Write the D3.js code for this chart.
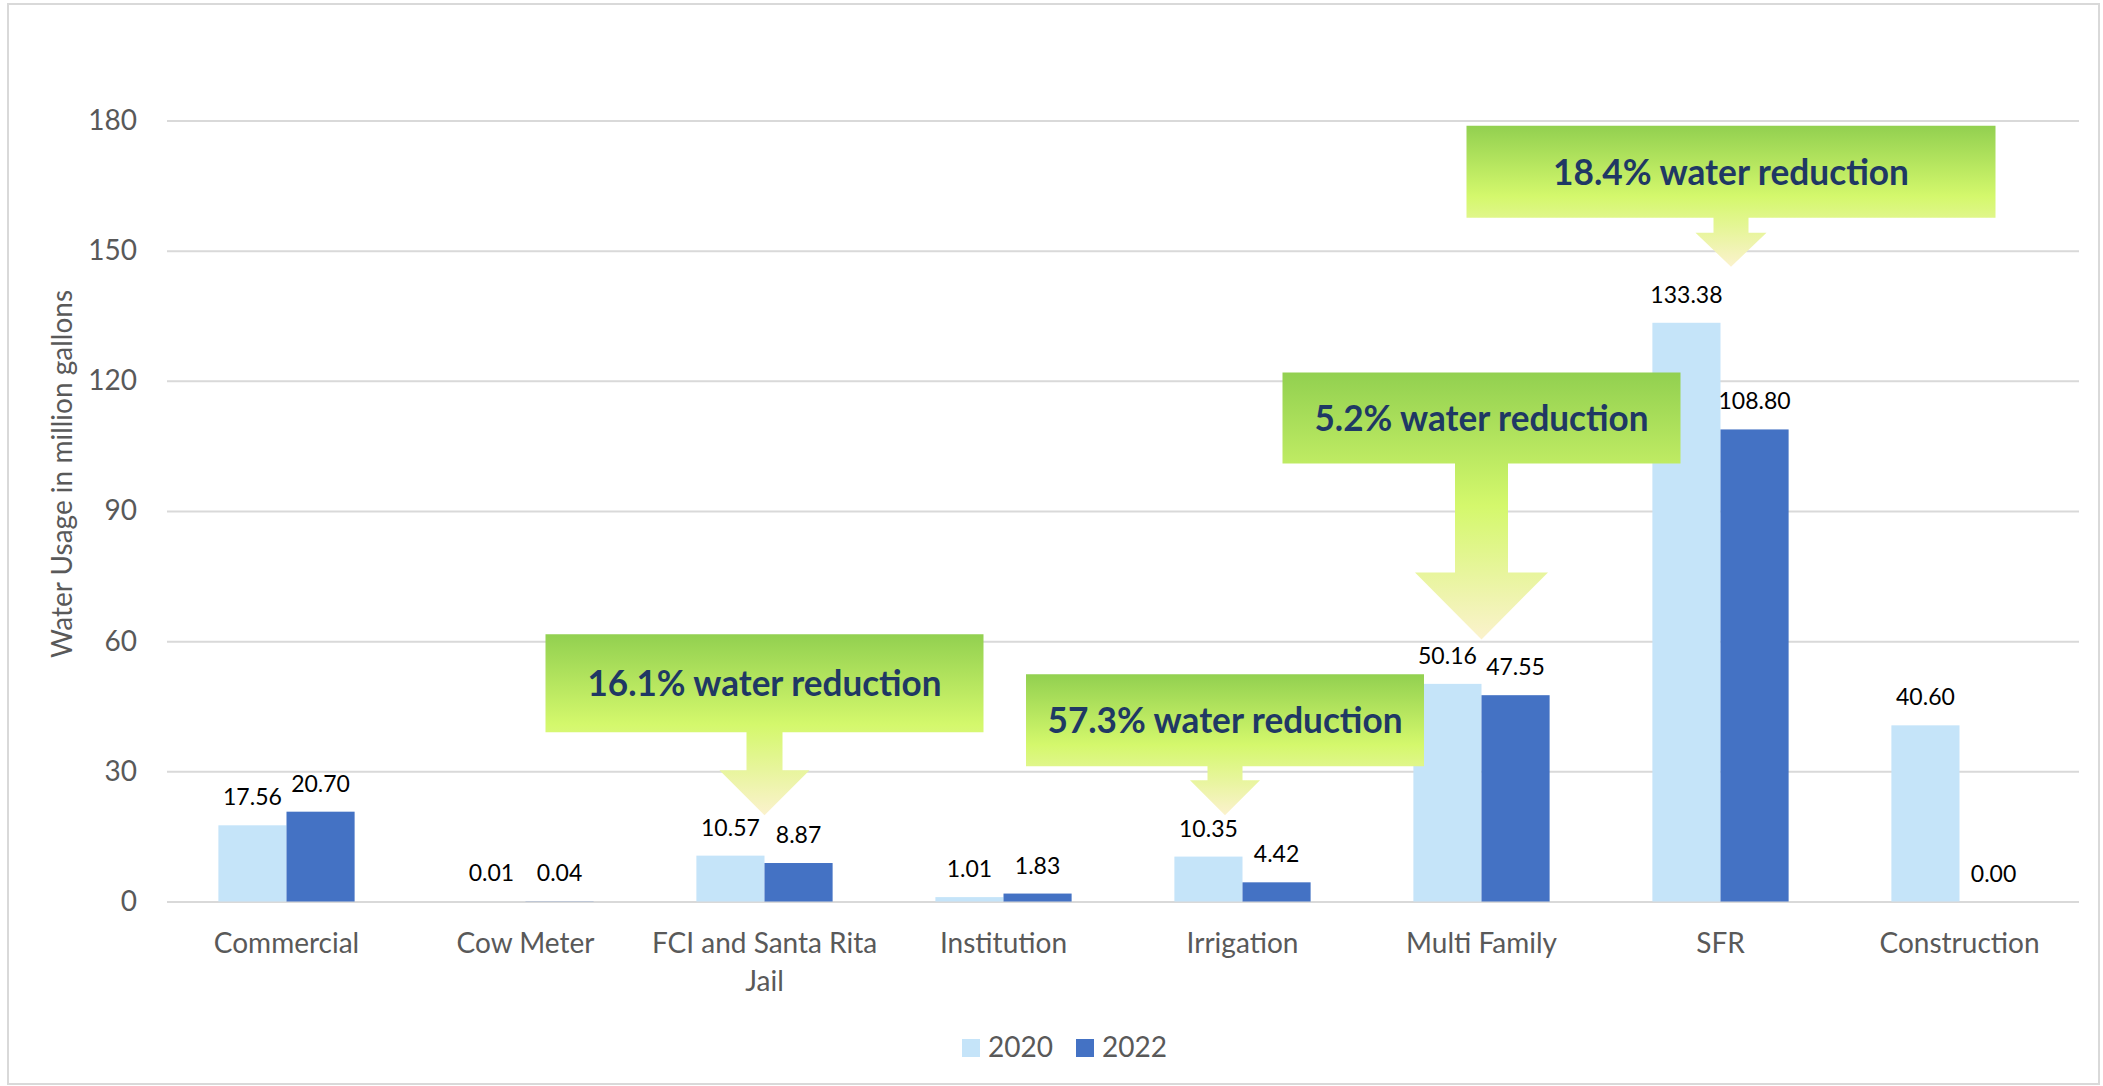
<!DOCTYPE html>
<html>
<head>
<meta charset="utf-8">
<script src="https://cdn.jsdelivr.net/npm/d3@7"></script>
<style>
	body { margin: 0; background: #ffffff; }
	svg { display: block; font-family: Lato, "Open Sans", sans-serif; }
</style>
</head>
<body>
<svg id="chart" width="2103" height="1086"></svg>
<script>
// chart data
const categories = ['Commercial', 'Cow Meter', 'FCI and Santa Rita Jail', 'Institution', 'Irrigation', 'Multi Family', 'SFR', 'Construction'];
const series = ['2020', '2022'];
const values2020 = [17.56, 0.01, 10.57, 1.01, 10.35, 50.16, 133.38, 40.60];
const values2022 = [20.70, 0.04, 8.87, 1.83, 4.42, 47.55, 108.80, 0.00];
const yTicks = [0, 30, 60, 90, 120, 150, 180];

// callouts
const noteTexts = ['16.1% water reduction', '57.3% water reduction', '5.2% water reduction', '18.4% water reduction'];
const noteCategories = ['FCI and Santa Rita Jail', 'Irrigation', 'Multi Family', 'SFR'];
const noteTipValues = [19.9, 19.9, 60.4, 146.3];

const colors = {'2020': '#C5E4F9', '2022': '#4472C4'};

// callout geometry in px: tip offset, box w/h, shaft w/h, head w/h, text width
const noteShapes = [
	{dx: 0, bw: 438, bh: 98, sw: 36, sh: 38, hw: 90, hh: 45, tl: 354},
	{dx: -17.5, bw: 398, bh: 92, sw: 35, sh: 14, hw: 70, hh: 35, tl: 355},
	{dx: 0, bw: 398, bh: 91, sw: 53, sh: 109, hw: 133, hh: 67, tl: 334},
	{dx: 10.5, bw: 529, bh: 92, sw: 35, sh: 15, hw: 71, hh: 34, tl: 356}
];

const svg = d3.select('#chart');
const W = 2103, H = 1086;
const plot = {left: 167, right: 2079, top: 120.5, bottom: 901.5};

svg.append('rect').attr('width', W).attr('height', H).attr('fill', '#ffffff');
svg.append('rect')
	.attr('x', 8).attr('y', 4).attr('width', 2091).attr('height', 1080)
	.attr('fill', 'none').attr('stroke', '#D9D9D9').attr('stroke-width', 2);

const x0 = d3.scaleBand().domain(categories).range([plot.left, plot.right]).padding(0);
const bw = x0.bandwidth();
const barW = bw * 0.285;
const x1 = d3.scaleBand().domain(series).range([bw / 2 - barW, bw / 2 + barW]).padding(0);
const y = d3.scaleLinear().domain([0, 180]).range([plot.bottom, plot.top]);

// y axis + gridlines
const yAxis = svg.append('g')
	.attr('transform', `translate(${plot.left},0)`)
	.call(d3.axisLeft(y).tickValues(yTicks).tickSize(-(plot.right - plot.left)).tickPadding(30));
yAxis.select('.domain').remove();
yAxis.selectAll('.tick line').attr('stroke', '#D9D9D9').attr('stroke-width', 2);
yAxis.selectAll('.tick text')
	.attr('fill', '#595959')
	.style('font-size', '28px')
	.style('font-family', 'Lato, sans-serif');

// axis title
svg.append('text')
	.attr('transform', 'translate(72,474) rotate(-90)')
	.attr('text-anchor', 'middle')
	.attr('fill', '#595959')
	.style('font-size', '28px')
	.text('Water Usage in million gallons');

// bars
const rows = categories.map((c, i) => ({cat: c, vals: [
	{key: '2020', v: values2020[i]},
	{key: '2022', v: values2022[i]}
]}));

const groups = svg.append('g').selectAll('g').data(rows).enter()
	.append('g')
	.attr('transform', d => `translate(${x0(d.cat)},0)`);

groups.selectAll('rect').data(d => d.vals).enter()
	.append('rect')
	.attr('x', d => x1(d.key))
	.attr('width', x1.bandwidth())
	.attr('y', d => y(d.v))
	.attr('height', d => y(0) - y(d.v))
	.attr('fill', d => colors[d.key]);

groups.selectAll('text').data(d => d.vals).enter()
	.append('text')
	.attr('x', d => x1(d.key) + x1.bandwidth() / 2)
	.attr('y', d => y(d.v) - 20)
	.attr('text-anchor', 'middle')
	.attr('fill', '#000000')
	.style('font-size', '23px')
	.text(d => d.v.toFixed(2));

// category labels
const xAxis = svg.append('g')
	.attr('transform', `translate(0,${plot.bottom})`)
	.call(d3.axisBottom(x0).tickSize(0));
xAxis.select('.domain').remove();
xAxis.selectAll('.tick text').each(function(d) {
	const t = d3.select(this);
	t.text(null).attr('y', 51).attr('dy', 0)
		.attr('fill', '#595959')
		.style('font-size', '28px')
		.style('font-family', 'Lato, sans-serif');
	const lines = d === 'FCI and Santa Rita Jail' ? ['FCI and Santa Rita', 'Jail'] : [d];
	lines.forEach((ln, i) => {
		t.append('tspan').attr('x', 0).attr('y', 51 + i * 38).text(ln);
	});
});

// callouts
const defs = svg.append('defs');
const grad = defs.append('linearGradient')
	.attr('id', 'noteGrad')
	.attr('x1', 0).attr('y1', 0).attr('x2', 0).attr('y2', 1);
grad.append('stop').attr('offset', '0%').attr('stop-color', '#92D050');
grad.append('stop').attr('offset', '50%').attr('stop-color', '#D4F86C');
grad.append('stop').attr('offset', '100%').attr('stop-color', '#FBF2CD');

const notes = noteTexts.map((t, i) => {
	const s = noteShapes[i];
	const tx = x0(noteCategories[i]) + bw / 2 + s.dx;
	const ty = y(noteTipValues[i]);
	return Object.assign({text: t, tx: tx, ty: ty}, s);
});

function calloutPath(n) {
	const bBot = n.ty - n.hh - n.sh;
	const bTop = bBot - n.bh;
	const p = d3.path();
	p.moveTo(n.tx - n.bw / 2, bTop);
	p.lineTo(n.tx + n.bw / 2, bTop);
	p.lineTo(n.tx + n.bw / 2, bBot);
	p.lineTo(n.tx + n.sw / 2, bBot);
	p.lineTo(n.tx + n.sw / 2, bBot + n.sh);
	p.lineTo(n.tx + n.hw / 2, bBot + n.sh);
	p.lineTo(n.tx, n.ty);
	p.lineTo(n.tx - n.hw / 2, bBot + n.sh);
	p.lineTo(n.tx - n.sw / 2, bBot + n.sh);
	p.lineTo(n.tx - n.sw / 2, bBot);
	p.lineTo(n.tx - n.bw / 2, bBot);
	p.closePath();
	return p.toString();
}

const noteG = svg.append('g').selectAll('g').data(notes).enter().append('g');
noteG.append('path')
	.attr('d', calloutPath)
	.attr('fill', 'url(#noteGrad)');
noteG.append('text')
	.attr('x', d => d.tx)
	.attr('y', d => d.ty - d.hh - d.sh - d.bh / 2 + 13)
	.attr('text-anchor', 'middle')
	.attr('fill', '#1F3864')
	.attr('textLength', d => d.tl)
	.attr('lengthAdjust', 'spacingAndGlyphs')
	.style('font-size', '36px')
	.style('font-weight', 'bold')
	.text(d => d.text);

// legend
const legend = svg.append('g').attr('transform', 'translate(962,1039)');
const legendX = [0, 114];
series.forEach((s, i) => {
	legend.append('rect')
		.attr('x', legendX[i]).attr('y', 0)
		.attr('width', 18).attr('height', 18)
		.attr('fill', colors[s]);
	legend.append('text')
		.attr('x', legendX[i] + 26).attr('y', 18)
		.attr('fill', '#595959')
		.style('font-size', '28px')
		.text(s);
});
</script>
</body>
</html>
